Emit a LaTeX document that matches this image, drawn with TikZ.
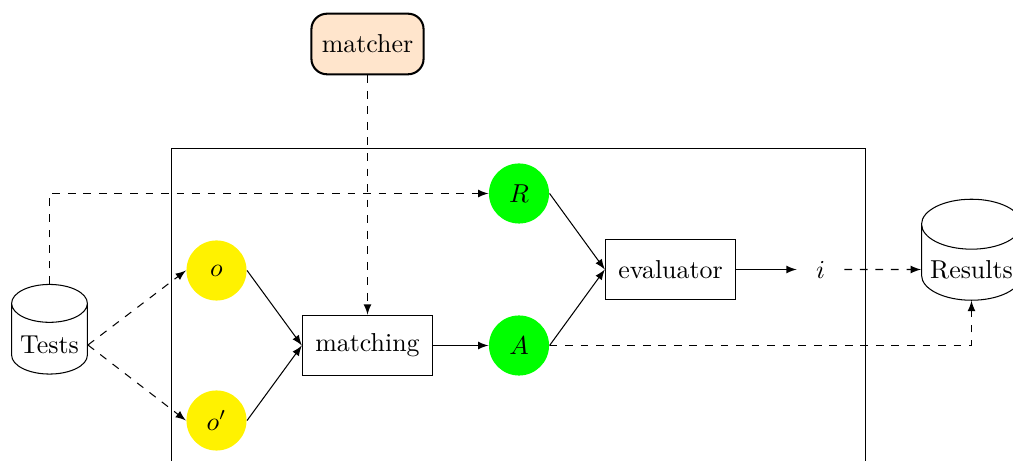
\documentclass[tikz,border=0pt]{standalone}
\usetikzlibrary{shapes.geometric,arrows}
\begin{document}
\begin{tikzpicture}[x=0.3861pt,y=-0.3861pt,>=latex,
  db/.style={cylinder,shape border rotate=90,draw,aspect=0.5,inner sep=3.33pt},
  proc/.style={draw,rectangle,minimum height=23.4pt,inner xsep=5pt},
  yc/.style={circle,fill=yellow,minimum size=23.2pt,inner sep=0pt},
  gc/.style={circle,fill=green,minimum size=23.2pt,inner sep=0pt},
  dep/.style={->,dashed},
  flow/.style={->}]
\useasboundingbox (0,0) rectangle (1013,461);
\begin{scope}[shift={(0.5,0.5)}]
\draw (171,148) -- (865,148) -- (865,520) (171,148) -- (171,520);
\node[db,minimum height=34.6pt] (tests) at (49,344.5) {Tests};
\node[db,minimum height=39pt] (results) at (971,269) {Results};
\node[draw,thick,rounded corners=6pt,fill=orange!20,minimum height=23.4pt,inner xsep=4pt] (matcher) at (367,43.5) {matcher};
\node[yc] (o) at (216,270) {$o$};
\node[yc] (op) at (216,420) {$o'$};
\node[proc] (matching) at (367,345) {matching};
\node[gc] (R) at (518.5,193) {$R$};
\node[gc] (A) at (518.5,345) {$A$};
\node[proc] (eval) at (670,269) {evaluator};
\node[minimum width=18pt] (i) at (820,269) {$i$};
\draw[dep] (tests.east) -- (o.west);
\draw[dep] (tests.east) -- (op.west);
\draw[dep] (tests.north) |- (R.west);
\draw[dep] (matcher.south) -- (matching.north);
\draw[flow] (o.east) -- (matching.west);
\draw[flow] (op.east) -- (matching.west);
\draw[flow] (matching.east) -- (A.west);
\draw[flow] (R.east) -- (eval.west);
\draw[flow] (A.east) -- (eval.west);
\draw[flow] (eval.east) -- (i.west);
\draw[dep] (i.east) -- (results.west);
\draw[dep] (A.east) -| (results.south);
\end{scope}
\end{tikzpicture}
\end{document}
